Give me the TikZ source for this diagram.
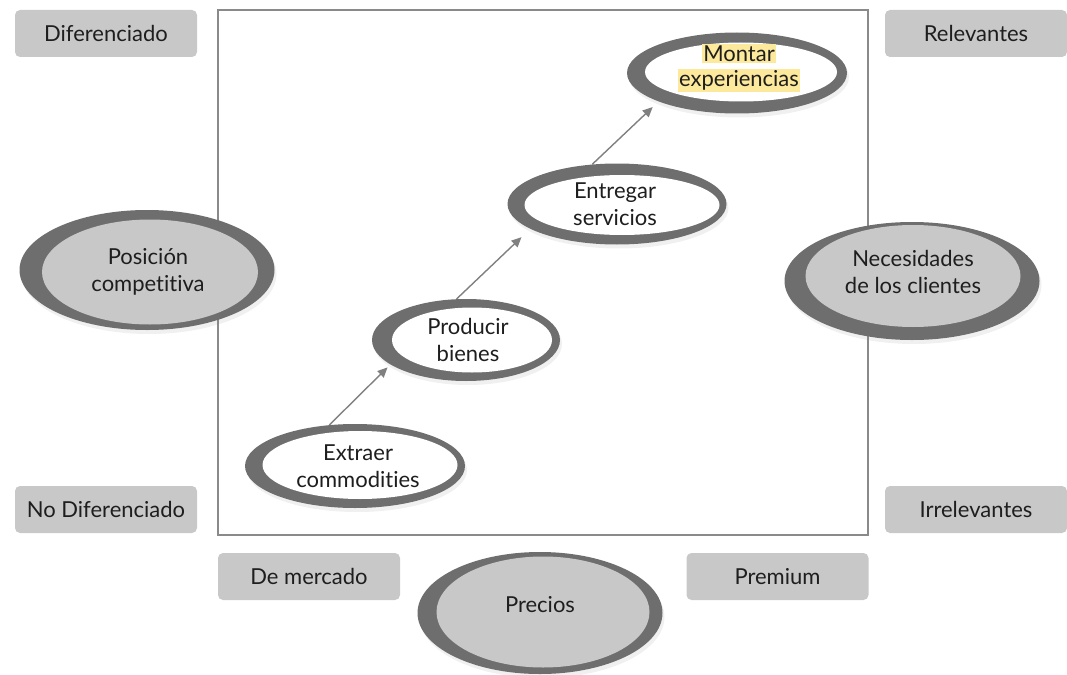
\documentclass[tikz,border=0pt]{standalone}
\usepackage{fontspec}
\setmainfont{Lato}[Ligatures={NoCommon,NoRequired,NoContextual}]
\usetikzlibrary{shapes.geometric,arrows.meta,shadows}

\definecolor{grisCaja}{HTML}{C8C8C8}
\definecolor{grisAnillo}{HTML}{6E6E6E}
\definecolor{grisMarco}{HTML}{8A8A8A}
\definecolor{grisFlecha}{HTML}{808080}
\definecolor{resalte}{HTML}{FDE99C}
\definecolor{tinta}{HTML}{1E1E1E}
\newcommand{\resaltar}[1]{{\setlength{\fboxsep}{1.5pt}\colorbox{resalte}{#1}}}

\tikzset{
	caja/.style={fill=grisCaja, rounded corners=5pt, minimum width=182pt, minimum height=47pt, inner sep=0pt, text=tinta, font=\fontsize{22}{27}\selectfont},
	anillo/.style={ellipse, fill=grisAnillo, inner sep=0pt, drop shadow={opacity=0.12, shadow xshift=2pt, shadow yshift=-4pt}},
	nucleo/.style={ellipse, inner sep=0pt},
	rotulo/.style={align=center, inner sep=0pt, text=tinta, font=\fontsize{22}{27}\selectfont},
	flecha/.style={grisFlecha, line width=1.4pt, -{Triangle[length=10pt,width=9pt]}}
}

\begin{document}
\begin{tikzpicture}[x=1pt,y=-1pt]
	\useasboundingbox (0,0) rectangle (1067,674);
	% Marco
		\draw[grisMarco, line width=2pt] (218,10) rectangle (868,535);
	% Cajas de los extremos
		\node[caja] (dif) at (106,33.5) {Diferenciado};
		\node[caja] (nodif) at (106,509.5) {No Diferenciado};
		\node[caja] (rel) at (976,33.5) {Relevantes};
		\node[caja] (irrel) at (976,509.5) {Irrelevantes};
		\node[caja] (merc) at (309,576.5) {De mercado};
		\node[caja] (prem) at (777.5,576.5) {Premium};
	% Ejes (elipses grandes)
		\node[anillo, minimum width=255pt, minimum height=120pt] (pos) at (147,270) {};
		\node[nucleo, fill=grisCaja, minimum width=216pt, minimum height=105pt] (posN) at (150,272) {};
		\node[rotulo] (posT) at (148,272) {Posición\\competitiva};
		\node[anillo, minimum width=255pt, minimum height=118pt] (nec) at (912,281) {};
		\node[nucleo, fill=grisCaja, minimum width=215pt, minimum height=102pt] (necN) at (913,276) {};
		\node[rotulo] (necT) at (913,272) {Necesidades\\de los clientes};
		\node[anillo, minimum width=245pt, minimum height=122pt] (pre) at (540,613) {};
		\node[nucleo, fill=grisCaja, minimum width=213pt, minimum height=111pt] (preN) at (543,612) {};
		\node[rotulo] (preT) at (540,605) {Precios};
	% Escalera de valor
		\node[anillo, minimum width=220pt, minimum height=84pt] (ext) at (355,466) {};
		\node[nucleo, fill=white, minimum width=195pt, minimum height=68pt] (extN) at (360,465) {};
		\node[rotulo] (extT) at (358,466) {Extraer\\commodities};
		\node[anillo, minimum width=188pt, minimum height=82pt] (prod) at (466,340) {};
		\node[nucleo, fill=white, minimum width=160pt, minimum height=65pt] (prodN) at (472,340) {};
		\node[rotulo] (prodT) at (468,340) {Producir\\bienes};
		\node[anillo, minimum width=219pt, minimum height=81pt] (ent) at (617,204) {};
		\node[nucleo, fill=white, minimum width=195pt, minimum height=60pt] (entN) at (622,205) {};
		\node[rotulo] (entT) at (615,204) {Entregar\\servicios};
		\node[anillo, minimum width=220pt, minimum height=81pt] (mon) at (737,73) {};
		\node[nucleo, fill=white, minimum width=192pt, minimum height=59pt] (monN) at (741,72) {};
		\node[rotulo, font=\fontsize{22}{25}\selectfont] (monT) at (739,68) {\resaltar{Montar}\\\resaltar{experiencias}};
	% Flechas
		\draw[flecha, shorten >=4pt] (ext.122) -- (prod.198);
		\draw[flecha, shorten >=12pt] (prod.103) -- (ent.196);
		\draw[flecha, shorten >=8pt] (ent.122) -- (mon.200);
\end{tikzpicture}
\end{document}
